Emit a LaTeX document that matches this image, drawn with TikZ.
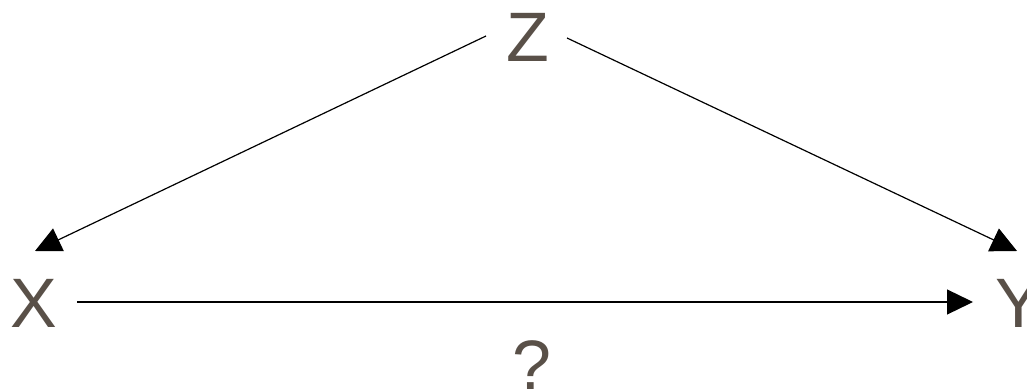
\documentclass[tikz,border=0pt]{standalone}
\usepackage{fontspec}
\setmainfont{Liberation Sans}
\usetikzlibrary{arrows.meta}
\definecolor{txt}{RGB}{89,80,72}
\begin{document}
\begin{tikzpicture}[x=1pt,y=1pt,
  lbl/.style={text=txt,font=\fontsize{70}{84}\selectfont,inner sep=0pt,anchor=base},
  arr/.style={line width=1.2pt,-{Triangle[length=26pt,width=25pt]}}]
\useasboundingbox (0,0) rectangle (1027,388);
\node[lbl] (Z) at (528,326) {Z};
\node[lbl] (X) at (34,60) {X};
\node[lbl] (Y) at (1019,60) {Y};
\node[lbl] (Q) at (532,-1) {?};
\coordinate (zl) at (486,352);
\coordinate (zr) at (567,350);
\coordinate (xt) at (35,137);
\coordinate (yt) at (1017,137);
\coordinate (xs) at (77,86);
\coordinate (ye) at (973,86);
\draw[arr] (zl) -- (xt);
\draw[arr] (zr) -- (yt);
\draw[arr] (xs) -- (ye);
\end{tikzpicture}
\end{document}
